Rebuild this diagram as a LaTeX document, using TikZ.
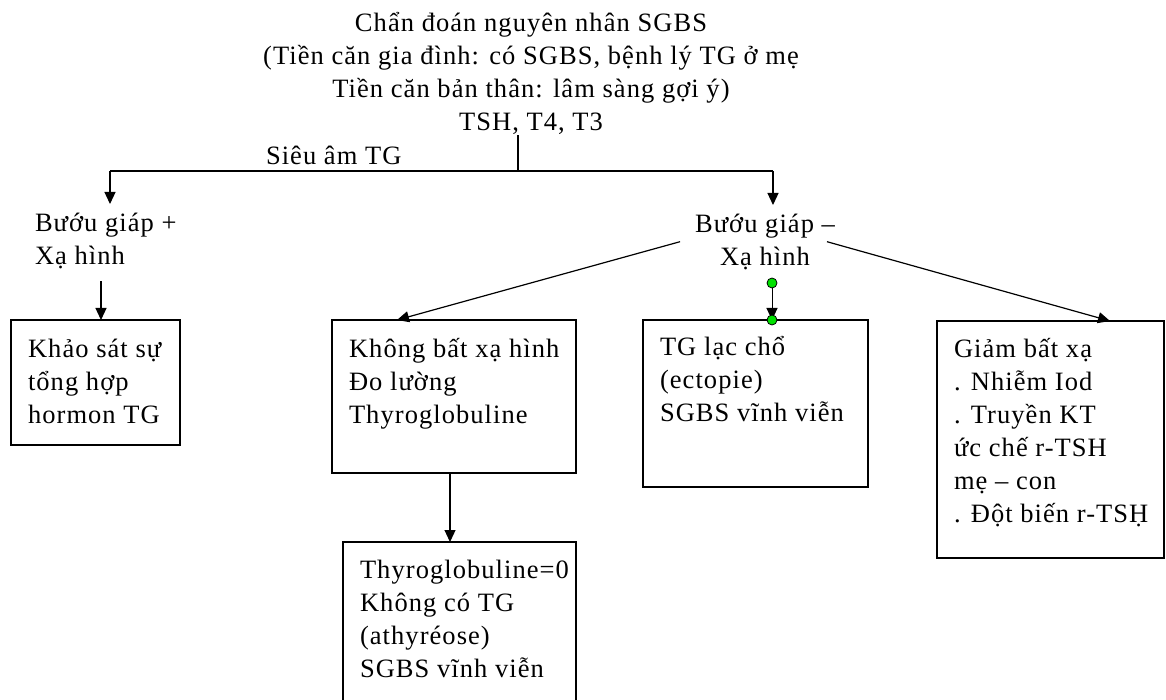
\documentclass[tikz,border=0pt]{standalone}
\usepackage{fontspec}
\newfontfamily\diagfont{Liberation Serif}[LetterSpace=4]
\usetikzlibrary{arrows.meta}
\definecolor{dotgreen}{RGB}{0,225,0}
\newcommand\topstrut{\rule{0pt}{28pt}}

\tikzset{
  every node/.style={inner sep=0pt, outer sep=0pt},
  txt/.style={font=\diagfont\fontsize{26.5}{33}\selectfont, align=left, anchor=north west},
  ctxt/.style={txt, align=center, anchor=north},
  stepbox/.style={draw, line width=1.2pt, anchor=north west},
  link/.style={line width=1.2pt},
  arr/.style={line width=1.2pt, -{Triangle[length=12pt,width=11pt]}},
  dot/.style={circle, draw, line width=0.8pt, fill=dotgreen, minimum size=10pt},
}

\begin{document}
\begin{tikzpicture}[x=1pt, y=-1pt]
\useasboundingbox (0,0) rectangle (1166,700);
\fill[white] (0,0) rectangle (1166,700);

% heading
\node[ctxt] (title) at (531,4) {\topstrut Chẩn đoán nguyên nhân SGBS\\
  (Tiền căn gia đình: có SGBS, bệnh lý TG ở mẹ\\
  Tiền căn bản thân: lâm sàng gợi ý)\\
  TSH, T4, T3};

% branch of the ultrasound step
\coordinate (j) at (518,171);
\coordinate (cL) at (110,171);
\coordinate (cR) at (773,171);
\node[txt, anchor=base west] (sieu) at (266,165) {Siêu âm TG};

\node[txt] (plus) at (35,204) {\topstrut Bướu giáp +\\Xạ hình};
\node[ctxt] (minus) at (765,205) {\topstrut Bướu giáp –\\Xạ hình};

% boxes
\node[stepbox, minimum width=169pt, minimum height=125pt] (b1) at (11,320) {};
\node[stepbox, minimum width=244pt, minimum height=153pt] (b2) at (332,320) {};
\node[stepbox, minimum width=225pt, minimum height=167pt] (b3) at (643,320) {};
\node[stepbox, minimum width=227pt, minimum height=237pt] (b4) at (937,321) {};
\node[stepbox, minimum width=233pt, minimum height=175pt] (b5) at (343,542) {};

\node[txt] (t1) at (28,329) {\topstrut Khảo sát sự\\tổng hợp\\hormon TG};
\node[txt] (t2) at (349,329) {\topstrut Không bất xạ hình\\Đo lường\\Thyroglobuline};
\node[txt] (t3) at (660,327) {\topstrut TG lạc chổ\\(ectopie)\\SGBS vĩnh viễn};
\node[txt] (t4) at (954,329) {\topstrut Giảm bất xạ\\. Nhiễm Iod\\. Truyền KT\\ức chế r-TSH\\mẹ – con\\. Đột biến r-TSḤ};
\node[txt] (t5) at (360,550) {\topstrut Thyroglobuline=0\\Không có TG\\(athyréose)\\SGBS vĩnh viễn};

% connectors
\draw[link] (title.south -| j) -- (j);
\draw[link] (cL) -- (cR);
\draw[arr] (cL) -- (cL |- plus.north);
\draw[arr] (cR) -- (cR |- minus.north);

\draw[arr, shorten <=12pt] ([xshift=5.5pt]b1.north |- plus.south) -- ([xshift=5.5pt]b1.north);
\draw[arr] ([xshift=-15pt,yshift=-4pt]minus.west) -- ([xshift=65pt]b2.north west);
\draw[arr] ([xshift=-8pt,yshift=-4pt]minus.east) -- ([xshift=173pt]b4.north west);
\draw[arr] ([xshift=-4pt]b2.south) -- ([xshift=-4pt]b2.south |- b5.north);

% small joint between the middle branch and its box
\coordinate (g1) at ([xshift=16.5pt,yshift=37pt]b3.north);
\draw[arr, line width=1pt] (g1) -- ([xshift=16.5pt]b3.north);
\node[dot] (d1) at (g1) {};
\node[dot] (d2) at ([xshift=16.5pt]b3.north) {};
\end{tikzpicture}
\end{document}
